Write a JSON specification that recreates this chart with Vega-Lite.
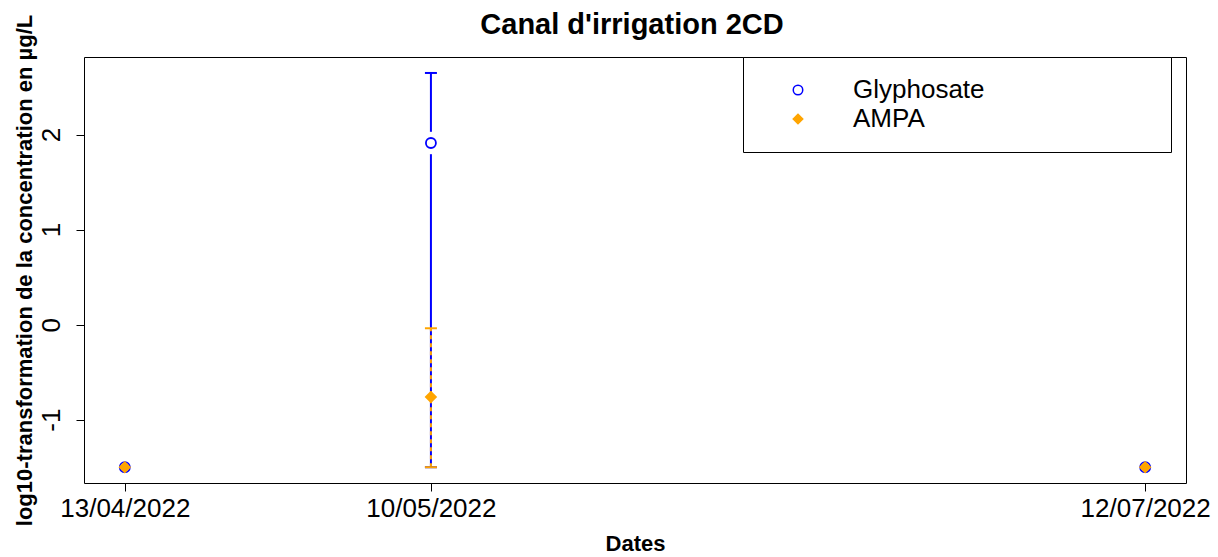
{
  "$schema": "https://vega.github.io/schema/vega-lite/v6.json",
  "width": 1102,
  "height": 426,
  "autosize": {"type": "none"},
  "padding": {"left": 84, "top": 57, "right": 32, "bottom": 74},
  "background": "white",
  "title": {"text": "Canal d'irrigation 2CD", "fontSize": 29, "fontWeight": "bold", "font": "Liberation Sans", "anchor": "middle", "frame": "group", "baseline": "alphabetic", "offset": 24, "dy": 73, "color": "black", "dx": -3},
  "config": {"view": {"stroke": "black", "strokeWidth": 1}, "font": "Liberation Sans"},
  "data": {"values": [
    {"date": "2022-04-13T00:00:00Z", "compound": "Glyphosate", "value": -1.5, "low": null, "high": null},
    {"date": "2022-04-13T00:00:00Z", "compound": "AMPA", "value": -1.5, "low": null, "high": null},
    {"date": "2022-05-10T00:00:00Z", "compound": "Glyphosate", "value": 1.911, "low": -1.5, "high": 2.648},
    {"date": "2022-05-10T00:00:00Z", "compound": "AMPA", "value": -0.761, "low": -1.5, "high": -0.038},
    {"date": "2022-07-12T00:00:00Z", "compound": "Glyphosate", "value": -1.5, "low": null, "high": null},
    {"date": "2022-07-12T00:00:00Z", "compound": "AMPA", "value": -1.5, "low": null, "high": null}
  ]},
  "encoding": {
    "x": {
      "field": "date", "type": "temporal",
      "scale": {"type": "utc", "domain": [
        {"year": 2022, "month": 4, "date": 9, "hours": 9, "minutes": 36, "utc": true},
        {"year": 2022, "month": 7, "date": 15, "hours": 14, "minutes": 24, "utc": true}
      ]},
      "axis": {
        "title": "Dates", "titleFontSize": 22, "titleFontWeight": "bold", "titleColor": "black", "titlePadding": 12, "titleFont": "Liberation Sans",
        "values": [
          {"year": 2022, "month": 4, "date": 13, "utc": true},
          {"year": 2022, "month": 5, "date": 10, "utc": true},
          {"year": 2022, "month": 7, "date": 12, "utc": true}
        ],
        "labelExpr": "utcFormat(datum.value, '%d/%m/%Y')",
        "labelFontSize": 26, "labelColor": "black", "labelPadding": 4, "labelFont": "Liberation Sans",
        "tickSize": 8, "tickColor": "black", "tickWidth": 1, "domain": false, "grid": false, "labelOverlap": false, "labelFlush": false
      }
    }
  },
  "layer": [
    {
      "transform": [{"filter": "datum.compound == 'Glyphosate' && isValid(datum.low)"}],
      "mark": {"type": "rule", "color": "blue", "strokeWidth": 2},
      "encoding": {
        "y": {"field": "low", "type": "quantitative", "title": "log10-transformation de la concentration en µg/L",
          "scale": {"domain": [-1.666, 2.816], "nice": false, "zero": false},
          "axis": {"values": [-1, 0, 1, 2], "labelExpr": "'' + datum.value", "labelAngle": 270, "labelAlign": "center", "labelBaseline": "alphabetic", "labelPadding": 17,
            "labelFontSize": 26, "labelColor": "black", "labelFont": "Liberation Sans",
            "tickSize": 8, "tickColor": "black", "domain": false, "grid": false,
            "titleFontSize": 22, "titleFontWeight": "bold", "titleColor": "black", "titlePadding": 2, "titleFont": "Liberation Sans"}},
        "y2": {"field": "high"}
      }
    },
    {
      "transform": [{"filter": "datum.compound == 'AMPA' && isValid(datum.low)"}],
      "mark": {"type": "rule", "color": "orange", "strokeWidth": 2, "strokeDash": [4, 4]},
      "encoding": {
        "y": {"field": "low", "type": "quantitative", "title": "log10-transformation de la concentration en µg/L"},
        "y2": {"field": "high"}
      }
    },
    {
      "transform": [{"filter": "datum.compound == 'Glyphosate' && isValid(datum.low)"}],
      "mark": {"type": "tick", "orient": "horizontal", "size": 12, "thickness": 2, "opacity": 1, "color": "blue"},
      "encoding": {
        "y": {"field": "high", "type": "quantitative", "title": "log10-transformation de la concentration en µg/L"}
      }
    },
    {
      "transform": [{"filter": "datum.compound == 'Glyphosate' && isValid(datum.low)"}],
      "mark": {"type": "tick", "orient": "horizontal", "size": 12, "thickness": 2, "opacity": 1, "color": "blue"},
      "encoding": {
        "y": {"field": "low", "type": "quantitative", "title": "log10-transformation de la concentration en µg/L"}
      }
    },
    {
      "transform": [{"filter": "datum.compound == 'AMPA' && isValid(datum.low)"}],
      "mark": {"type": "tick", "orient": "horizontal", "size": 12, "thickness": 2, "opacity": 1, "color": "orange"},
      "encoding": {
        "y": {"field": "high", "type": "quantitative", "title": "log10-transformation de la concentration en µg/L"}
      }
    },
    {
      "transform": [{"filter": "datum.compound == 'AMPA' && isValid(datum.low)"}],
      "mark": {"type": "tick", "orient": "horizontal", "size": 12, "thickness": 2, "opacity": 1, "color": "orange"},
      "encoding": {
        "y": {"field": "low", "type": "quantitative", "title": "log10-transformation de la concentration en µg/L"}
      }
    },
    {
      "transform": [{"filter": "datum.compound == 'Glyphosate' && isValid(datum.low)"}],
      "mark": {"type": "point", "shape": "circle", "filled": true, "fill": "white", "strokeWidth": 0, "size": 500, "opacity": 1},
      "encoding": {
        "y": {"field": "value", "type": "quantitative", "title": "log10-transformation de la concentration en µg/L"}
      }
    },
    {
      "mark": {"type": "point", "strokeWidth": 1.8, "size": 100, "opacity": 1},
      "encoding": {
        "y": {"field": "value", "type": "quantitative", "title": "log10-transformation de la concentration en µg/L"},
        "fill": {"field": "compound", "type": "nominal", "scale": {"domain": ["Glyphosate", "AMPA"], "range": ["transparent", "orange"]},
          "legend": {"orient": "none", "legendX": 659, "legendY": 0, "title": "\u00a0", "titleOrient": "right", "titlePadding": 166, "titleFontSize": 12, "strokeColor": "black", "fillColor": "white", "padding": 20,
            "symbolOffset": 22, "labelOffset": 42, "rowPadding": 3, "labelFontSize": 26, "labelFont": "Liberation Sans", "labelColor": "black",
            "symbolSize": 90, "symbolStrokeWidth": 1.5, "labelBaseline": "middle", "labelLimit": 600}},
        "stroke": {"field": "compound", "type": "nominal", "scale": {"domain": ["Glyphosate", "AMPA"], "range": ["blue", "orange"]},
          "legend": {"orient": "none", "legendX": 659, "legendY": 0, "title": "\u00a0", "titleOrient": "right", "titlePadding": 166, "titleFontSize": 12, "strokeColor": "black", "fillColor": "white", "padding": 20,
            "symbolOffset": 22, "labelOffset": 42, "rowPadding": 3, "labelFontSize": 26, "labelFont": "Liberation Sans", "labelColor": "black",
            "symbolSize": 90, "symbolStrokeWidth": 1.5, "labelBaseline": "middle", "labelLimit": 600}},
        "shape": {"field": "compound", "type": "nominal", "scale": {"domain": ["Glyphosate", "AMPA"], "range": ["circle", "diamond"]},
          "legend": {"orient": "none", "legendX": 659, "legendY": 0, "title": "\u00a0", "titleOrient": "right", "titlePadding": 166, "titleFontSize": 12, "strokeColor": "black", "fillColor": "white", "padding": 20,
            "symbolOffset": 22, "labelOffset": 42, "rowPadding": 3, "labelFontSize": 26, "labelFont": "Liberation Sans", "labelColor": "black",
            "symbolSize": 90, "symbolStrokeWidth": 1.5, "labelBaseline": "middle", "labelLimit": 600}}
      }
    }
  ]
}
